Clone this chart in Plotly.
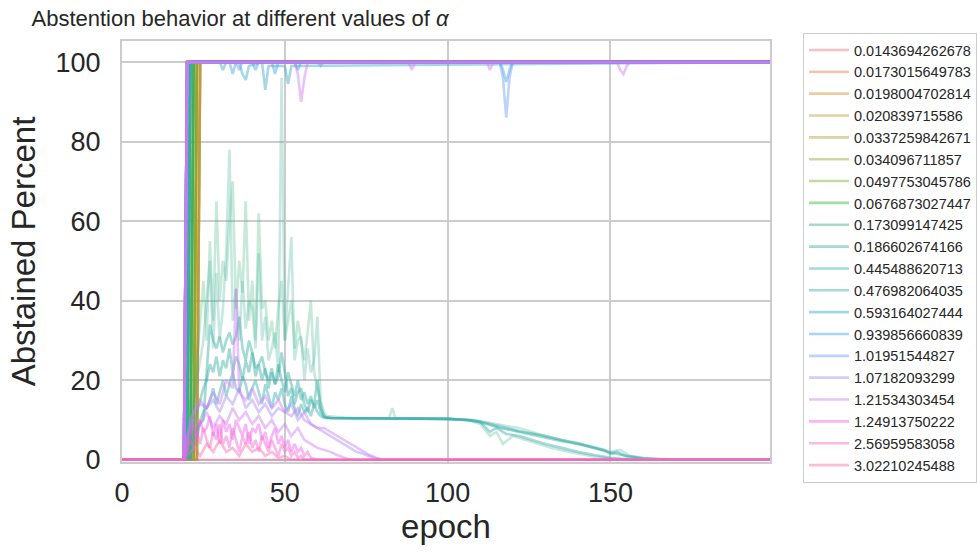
import math
import plotly.graph_objects as go

# ---------------- data ----------------
alpha_labels = [
    "0.0143694262678", "0.0173015649783", "0.0198004702814", "0.020839715586",
    "0.0337259842671", "0.034096711857", "0.0497753045786", "0.0676873027447",
    "0.173099147425", "0.186602674166", "0.445488620713", "0.476982064035",
    "0.593164027444", "0.939856660839", "1.01951544827", "1.07182093299",
    "1.21534303454", "1.24913750222", "2.56959583058", "3.02210245488",
]

# runs that jump from 0 % to 100 % and stay there:
# alpha index, last epoch at 0 %, first epoch at 100 %
step_alpha = [0, 0, 0, 1, 1, 1, 2, 2, 2, 3, 3, 3, 4, 4, 4, 5, 5, 5, 6, 6, 6, 7, 7, 7,
              8, 8, 8, 9, 9, 10, 10, 11, 11, 15, 15, 15, 16, 16, 16]
step_last_zero = [19, 19, 20, 20, 20, 21, 22, 23, 23, 22, 23, 23, 22, 22, 23, 21, 22, 22, 21, 21, 22, 20, 21, 21,
                  20, 20, 21, 20, 20, 19, 20, 19, 20, 19, 19, 19, 19, 19, 19]
step_first_full = [20, 20, 21, 21, 21, 22, 23, 24, 24, 23, 24, 24, 23, 23, 24, 22, 23, 23, 22, 22, 23, 21, 22, 22,
                   21, 21, 22, 21, 21, 20, 21, 20, 21, 20, 20, 20, 20, 20, 20]

# runs at 100 % with short dips: (alpha index, epochs, values)
dip_alpha = [12, 13, 13, 14, 16]
dip_epochs = [
    [0, 19, 20, 30, 31, 32, 36, 37, 38, 39, 43, 44, 45, 50, 51, 52, 199],
    [0, 19, 20, 33, 34, 35, 40, 41, 42, 116, 117, 118, 119, 120, 199],
    [0, 19, 20, 46, 47, 48, 53, 54, 55, 199],
    [0, 19, 20, 35, 36, 37, 60, 61, 62, 116, 117, 118, 119, 120, 199],
    [0, 19, 20, 53, 54, 55, 56, 57, 88, 89, 90, 112, 113, 114, 152, 153, 154, 155, 156, 199],
]
dip_values = [
    [0, 0, 100, 100, 98, 100, 100, 97, 95.5, 99, 100, 93, 99, 99, 94.5, 99, 100],
    [0, 0, 100, 100, 97, 100, 100, 98, 100, 100, 98, 95, 98, 100, 100],
    [0, 0, 100, 100, 97, 100, 100, 98, 100, 100],
    [0, 0, 100, 100, 98, 100, 100, 99, 100, 100, 96, 86, 96, 100, 100],
    [0, 0, 100, 100, 97, 90, 96, 100, 100, 98, 100, 100, 98, 100, 100, 98, 97, 99, 100, 100],
]

# noisy runs that end at 0 % (teal family and purple / pink family)
noisy_alpha = [8, 9, 10, 10, 11, 15, 16, 16, 17, 18, 19, 19]
noisy_spiky = [True, True, False, False, False, False, False, False, False, False, False, False]
noisy_epochs = [
    list(range(19, 63)) + [63, 100, 106, 110, 113, 115, 117, 120, 124, 128, 132, 136, 140, 145, 150, 155, 199],
    list(range(19, 63)) + [63, 70, 82, 83, 84, 100, 108, 112, 115, 118, 122, 126, 130, 135, 140, 145, 150, 153, 156, 160, 165, 170, 199],
    list(range(19, 63)) + [63, 65, 80, 100, 105, 108, 112, 116, 120, 125, 130, 135, 140, 145, 150, 155, 160, 165, 170, 199],
    list(range(19, 63)) + [64, 100, 107, 110, 114, 118, 122, 126, 130, 135, 140, 145, 148, 150, 152, 155, 160, 165, 199],
    list(range(19, 63)) + [70, 100, 106, 110, 113, 115, 118, 122, 126, 130, 135, 140, 145, 150, 155, 160, 199],
    [19, 20, 21, 22, 24, 26, 28, 30, 32, 34, 36, 38, 40, 42, 44, 46, 48, 50, 52, 54, 56, 58, 60, 62, 64, 66, 68, 70, 72, 74, 76, 78, 80, 199],
    [19, 20, 21, 22, 24, 26, 28, 30, 32, 34, 36, 38, 40, 42, 44, 46, 48, 50, 52, 54, 56, 58, 60, 62, 64, 66, 68, 70, 199],
    [19, 20, 22, 24, 26, 28, 30, 32, 34, 35, 36, 38, 40, 42, 44, 46, 48, 50, 52, 54, 56, 58, 60, 62, 64, 66, 68, 70, 72, 74, 76, 78, 80, 199],
    list(range(19, 59)) + [60, 199],
    list(range(19, 57)) + [199],
    [19, 20, 22, 24, 26, 28, 30, 32, 34, 36, 38, 40, 42, 44, 46, 48, 50, 52, 199],
    [0, 199],
]
noisy_values = [
    [0, 0, 8, 15, 25, 35, 45, 30, 55, 35, 65, 40, 50, 45, 60, 70, 38, 50, 42, 65, 35, 45, 30, 62, 38, 40, 30, 35, 28, 38, 45, 30, 35, 40, 28, 35, 30, 25, 32, 40, 22, 18, 14, 11,
     10.5, 10.3, 10, 9, 6, 7, 4, 6, 5, 4, 3, 2.2, 1.5, 0.8, 0.3, 0, 0],
    [0, 0, 5, 12, 20, 25, 30, 40, 50, 28, 47, 30, 38, 52, 78, 35, 43, 30, 45, 33, 40, 38, 28, 52, 30, 36, 25, 28, 32, 22, 96, 30, 42, 56, 25, 30, 31, 20, 28, 22, 25, 36, 15, 12,
     11, 10.5, 10.5, 13, 10.5, 10.3, 10, 9.5, 9, 8.5, 8, 7, 6, 5, 4, 3.2, 2, 2.5, 1, 0.5, 0.2, 0, 0],
    [0, 0, 2, 5, 8, 9, 10, 22, 34, 30, 28, 31, 27, 30, 32, 29, 31, 36, 28, 25, 30, 27, 23, 24, 26, 22, 20, 23, 19, 21, 27, 22, 16, 18, 14, 17, 18, 14, 12, 15, 14, 20, 13, 11,
     10.6, 10.5, 10.4, 10.3, 10, 9.8, 9, 8, 7.4, 6.5, 5.5, 4.7, 4, 3, 1.8, 1, 0.4, 0.1, 0, 0],
    [0, 0, 3, 8, 12, 15, 18, 20, 24, 22, 26, 21, 25, 23, 28, 22, 26, 24, 20, 25, 22, 27, 21, 24, 20, 23, 18, 22, 19, 24, 20, 17, 22, 19, 16, 20, 15, 17, 14, 16, 13, 15, 12, 10.8,
     10.5, 10.3, 10, 9.6, 8.8, 8, 7.2, 6.6, 6, 5, 4.2, 3, 2.5, 1.5, 2, 0.8, 0.3, 0, 0],
    [0, 0, 1, 3, 6, 10, 12, 13, 15, 18, 14, 17, 20, 16, 19, 22, 18, 17, 21, 19, 15, 18, 20, 17, 14, 19, 16, 13, 17, 15, 18, 14, 12, 16, 13, 11, 14, 12, 13, 11, 14, 12, 11, 10.5,
     10.4, 10.3, 10, 9.5, 7, 8, 6.5, 6, 5, 4, 3, 2, 1.2, 0.5, 0.1, 0, 0],
    [0, 5, 10, 12, 14, 13, 15, 12, 16, 14, 18, 13, 15, 12, 14, 11, 13, 12, 14, 10, 12, 9, 8, 7, 6, 5, 4, 3, 2, 1.5, 0.8, 0.3, 0, 0],
    [0, 4, 8, 10, 9, 12, 8, 11, 9, 13, 10, 12, 9, 11, 8, 10, 7, 9, 6, 8, 5, 4, 3, 2.5, 2, 1.2, 0.5, 0, 0],
    [0, 6, 12, 15, 13, 17, 14, 20, 18, 43, 17, 15, 18, 14, 16, 13, 15, 12, 11, 13, 10, 9, 8, 8, 7, 6, 5, 4, 3, 2, 1.2, 0.5, 0, 0],
    [0, 3, 6, 9, 5, 10, 7, 8, 11, 6, 9, 4, 10, 7, 9, 5, 10, 8, 6, 9, 4, 8, 7, 9, 5, 7, 3, 6, 8, 4, 6, 3, 5, 2, 4, 2, 3, 1, 2, 0.5, 0, 0],
    [0, 2, 5, 3, 7, 4, 8, 5, 3, 7, 5, 9, 4, 6, 3, 8, 5, 2, 6, 4, 7, 3, 5, 2, 6, 4, 2, 5, 3, 1, 4, 2, 3, 1, 2, 0.5, 1, 0, 0],
    [0, 1, 3, 1, 4, 2, 5, 2, 3, 1, 4, 2, 3, 1, 2, 0.5, 1, 0, 0],
    [0, 0],
]

x_ticks = [0, 50, 100, 150]
y_ticks = [0, 20, 40, 60, 80, 100]
last_epoch = 199


# ---------------- husl palette (seaborn "husl", 20 colours) ----------------
_M = [[3.2406, -1.5372, -0.4986], [-0.9689, 1.8758, 0.0415], [0.0557, -0.2040, 1.0570]]
_refU, _refV, _lab_e, _lab_k = 0.19784, 0.46834, 0.008856, 903.3


def _max_chroma(L, H):
    hrad = H / 360.0 * 2 * math.pi
    sinH, cosH = math.sin(hrad), math.cos(hrad)
    sub1 = (L + 16) ** 3 / 1560896.0
    sub2 = sub1 if sub1 > _lab_e else L / _lab_k
    result = float("inf")
    for m1, m2, m3 in _M:
        top = (0.99915 * m1 + 1.05122 * m2 + 1.14460 * m3) * sub2
        rbottom = 0.86330 * m3 - 0.17266 * m2
        lbottom = 0.12949 * m3 - 0.38848 * m1
        bottom = (rbottom * sinH + lbottom * cosH) * sub2
        for t in (0.0, 1.0):
            C = L * (top - 1.05122 * t) / (bottom + 0.17266 * sinH * t)
            if 0 < C < result:
                result = C
    return result


def _husl_to_rgb(H, S, L):
    C = _max_chroma(L, H) / 100.0 * S
    hrad = math.radians(H)
    U, V = C * math.cos(hrad), C * math.sin(hrad)
    t = (L + 16) / 116.0
    varY = t ** 3 if t ** 3 > _lab_e else (116 * t - 16) / _lab_k
    varU = U / (13 * L) + _refU
    varV = V / (13 * L) + _refV
    Y = varY
    X = -(9 * Y * varU) / ((varU - 4) * varV - varU * varV)
    Z = (9 * Y - 15 * varV * Y - varV * X) / (3 * varV)
    out = []
    for row in _M:
        c = row[0] * X + row[1] * Y + row[2] * Z
        c = 12.92 * c if c <= 0.0031308 else 1.055 * c ** (1 / 2.4) - 0.055
        out.append(int(round(min(max(c, 0), 1) * 255)))
    return out


n = len(alpha_labels)
palette = []
for i in range(n):
    h = ((i / n) + 0.01) % 1 * 359
    palette.append(_husl_to_rgb(h, 0.9 * 99, 0.65 * 99))

LINE_ALPHA = 0.45
SPIKY_ALPHA = 0.28
LINE_W = 2.6


def rgba(i, a=LINE_ALPHA):
    r, g, b = palette[i]
    return f"rgba({r},{g},{b},{a})"


# ---------------- assemble runs ----------------
runs = []
for a, z, f in zip(step_alpha, step_last_zero, step_first_full):
    runs.append((a, [0, z, f, last_epoch], [0, 0, 100, 100], LINE_ALPHA))
for a, xs, ys in zip(dip_alpha, dip_epochs, dip_values):
    runs.append((a, xs, ys, LINE_ALPHA))
for a, sp, xs, ys in zip(noisy_alpha, noisy_spiky, noisy_epochs, noisy_values):
    if xs[0] != 0:
        xs, ys = [0] + xs, [0] + ys
    runs.append((a, xs, ys, SPIKY_ALPHA if sp else LINE_ALPHA))
runs.sort(key=lambda r: r[0])

fig = go.Figure()
shown = set()
for a, xs, ys, al in runs:
    fig.add_trace(go.Scatter(
        x=xs, y=ys, mode="lines",
        line=dict(color=rgba(a, al), width=LINE_W),
        name=alpha_labels[a],
        legendgroup=alpha_labels[a],
        showlegend=a not in shown,
        legendrank=a + 1,
        hoverinfo="skip",
    ))
    shown.add(a)

FONT = "Liberation Sans, Arial, sans-serif"
TXT = "#262626"
GRID = "#cccccc"

fig.update_layout(
    width=977, height=553,
    margin=dict(l=122, r=207, t=41, b=91, autoexpand=False),
    paper_bgcolor="white", plot_bgcolor="white",
    font=dict(family=FONT, color=TXT),
    title=dict(
        text="Abstention behavior at different values of <i>α</i>",
        font=dict(family=FONT, size=22, color=TXT),
        x=240 / 977, xanchor="center", xref="container",
        y=1 - 18 / 553, yanchor="middle", yref="container",
    ),
    xaxis=dict(
        range=[0, last_epoch], tickmode="array", tickvals=x_ticks,
        showgrid=True, gridcolor=GRID, gridwidth=1.5,
        zeroline=False, showline=True, linecolor=GRID, linewidth=2, mirror=True,
        ticks="", tickfont=dict(size=27, color=TXT), ticklabelstandoff=6,
        title=dict(text="epoch", font=dict(size=33, color=TXT), standoff=4),
    ),
    yaxis=dict(
        range=[-0.55, 105.3], tickmode="array", tickvals=y_ticks,
        showgrid=True, gridcolor=GRID, gridwidth=1.5,
        zeroline=False, showline=True, linecolor=GRID, linewidth=2, mirror=True,
        ticks="", tickfont=dict(size=27, color=TXT), ticklabelstandoff=14,
        title=dict(text="Abstained Percent", font=dict(size=33, color=TXT), standoff=10),
    ),
    legend=dict(
        x=803 / 977, y=1 - 33 / 553, xref="container", yref="container",
        xanchor="left", yanchor="top",
        bordercolor=GRID, borderwidth=1, bgcolor="white",
        font=dict(size=14.5, color=TXT), traceorder="normal",
        itemwidth=40, maxheight=520,
    ),
    showlegend=True,
)

fig.write_html("out.html")
